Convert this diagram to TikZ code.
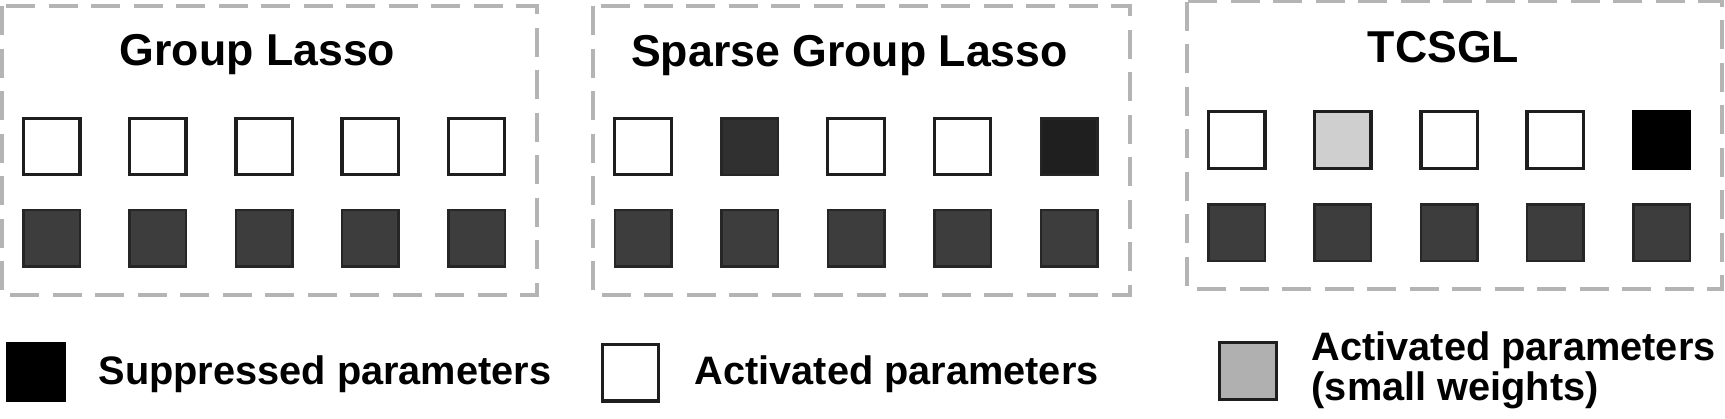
\documentclass[tikz,border=0pt]{standalone}
\usepackage{fontspec}
\setmainfont{Liberation Sans}
\definecolor{framegray}{HTML}{B4B4B4}
\definecolor{edgedark}{HTML}{1E1E1E}
\definecolor{edgedarkb}{HTML}{262626}
\definecolor{darkfill}{HTML}{3D3D3D}
\definecolor{sgfill}{HTML}{303030}
\definecolor{sgfillb}{HTML}{1F1F1F}
\definecolor{lightfill}{HTML}{CFCFCF}
\definecolor{legfill}{HTML}{B0B0B0}
\begin{document}
\begin{tikzpicture}[x=0.1mm,y=-0.1mm,
  frame/.style={draw=framegray, line width=0.32mm, dash pattern=on 2.9mm off 1.35mm},
  sq/.style={draw=edgedark, line width=0.34mm, minimum size=5.65mm, inner sep=0pt, outer sep=0pt},
  wsq/.style={sq, fill=white},
  dsq/.style={sq, fill=darkfill, draw=edgedarkb, line width=0.25mm},
  ttl/.style={font=\fontsize{12.7}{14}\selectfont\bfseries, anchor=base, inner sep=0pt},
  legtext/.style={font=\fontsize{11.3}{11.1}\selectfont\bfseries, anchor=base west, inner sep=0pt, align=left}]
\useasboundingbox (0,0) rectangle (1725,418);

% frames
\draw[frame] (2,6) rectangle (537,295);
\draw[frame] (593,6) rectangle (1130,295);
\draw[frame] (1187,1.5) rectangle (1722,289);

% titles
\node[ttl] (t1) at (257.5,65.5) {Group Lasso};
\node[ttl] (t2) at (849.5,66) {Sparse Group Lasso};
\node[ttl] (t3) at (1443.5,62) {TCSGL};

% Group Lasso
\node[wsq] (a1) at (51.7,146.5) {};
\node[wsq] (a2) at (157.9,146.5) {};
\node[wsq] (a3) at (264.1,146.5) {};
\node[wsq] (a4) at (370.3,146.5) {};
\node[wsq] (a5) at (476.5,146.5) {};
\node[dsq] (b1) at (51.7,238) {};
\node[dsq] (b2) at (157.9,238) {};
\node[dsq] (b3) at (264.1,238) {};
\node[dsq] (b4) at (370.3,238) {};
\node[dsq] (b5) at (476.5,238) {};

% Sparse Group Lasso
\node[wsq] (c1) at (643,146.5) {};
\node[dsq, fill=sgfill] (c2) at (749.5,146.5) {};
\node[wsq] (c3) at (856,146.5) {};
\node[wsq] (c4) at (962.5,146.5) {};
\node[dsq, fill=sgfillb] (c5) at (1069,146.5) {};
\node[dsq] (d1) at (643,238) {};
\node[dsq] (d2) at (749.5,238) {};
\node[dsq] (d3) at (856,238) {};
\node[dsq] (d4) at (962.5,238) {};
\node[dsq] (d5) at (1069,238) {};

% TCSGL
\node[wsq] (e1) at (1236.7,140) {};
\node[sq, fill=lightfill] (e2) at (1342.9,140) {};
\node[wsq] (e3) at (1449.1,140) {};
\node[wsq] (e4) at (1555.3,140) {};
\node[sq, fill=black, draw=black] (e5) at (1661.5,140) {};
\node[dsq] (f1) at (1236.7,232.6) {};
\node[dsq] (f2) at (1342.9,232.6) {};
\node[dsq] (f3) at (1449.1,232.6) {};
\node[dsq] (f4) at (1555.3,232.6) {};
\node[dsq] (f5) at (1661.5,232.6) {};

% legend
\node[sq, fill=black, draw=black] (l1) at (35.7,372.3) {};
\node[legtext] (lt1) at (98,384) {Suppressed parameters};
\node[wsq] (l2) at (630.5,372.7) {};
\node[legtext] (lt2) at (694,384) {Activated parameters};
\node[sq, fill=legfill] (l3) at (1248,371) {};
\node[legtext] (lt3) at (1311,400) {Activated parameters\\(small weights)};
\end{tikzpicture}
\end{document}
